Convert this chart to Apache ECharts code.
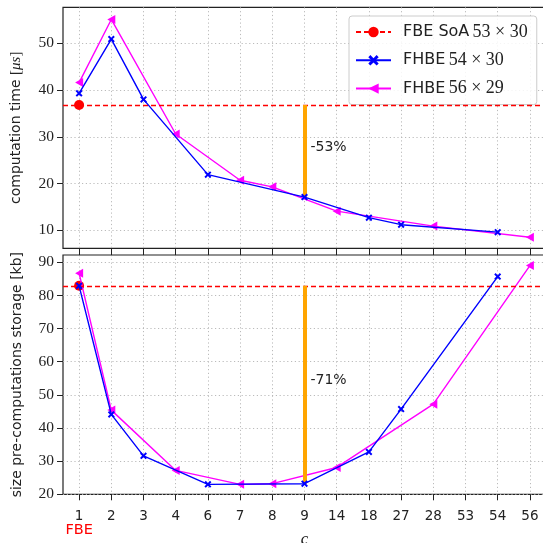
<!DOCTYPE html>
<html><head><meta charset="utf-8">
<script src="https://cdn.jsdelivr.net/npm/echarts@6/dist/echarts.min.js"></script>
<style>html,body{margin:0;padding:0;background:#fff}#c{width:543px;height:543px}</style>
</head><body><div id="c"></div>
<script>
// ---- data ----
const categories = ['1','2','3','4','6','7','8','9','14','18','27','28','53','54','56'];
const fbeCategory = '1';
const fbeLabel = 'FBE';
const timeFBE = 36.8;
const timeFHBE54 = [39.3, 50.9, 38.0, null, 21.9, null, null, 17.1, null, 12.7, 11.2, null, null, 9.6, null];
const timeFHBE56 = [41.6, 55.1, null, 30.6, null, 20.7, 19.3, null, 14.1, null, null, 10.9, null, null, 8.5];
const storageFBE = 82.9;
const storageFHBE54 = [82.9, 44.1, 31.6, null, 23.0, null, null, 23.2, null, 32.8, 45.7, null, null, 85.7, null];
const storageFHBE56 = [86.7, 45.4, null, 27.2, null, 23.0, 23.2, null, 28.1, null, null, 47.2, null, null, 89.0];
const timeTicks = [10, 20, 30, 40, 50];
const storageTicks = [20, 30, 40, 50, 60, 70, 80, 90];
const reductionCategory = '9';
const reductionLabels = ['-53%', '-71%'];
const legendParts = [['FBE SoA', '53 × 30'], ['FHBE', '54 × 30'], ['FHBE', '56 × 29']];

// ---- styling ----
const serif = 'Liberation Serif';
const sans = 'DejaVu Sans';
const ink = '#222';
const RED = '#ff0000', BLUE = '#0000ff', MAG = '#ff00ff', ORANGE = '#ffa500';
const names = legendParts.map(p => p[0] + ' ' + p[1]);
const xMark = 'path://M0,2 L2,0 L5,3 L8,0 L10,2 L7,5 L10,8 L8,10 L5,7 L2,10 L0,8 L3,5 Z';
const leftTri = 'path://M0,5 L10,0 L10,10 Z';
const gridLine = {show: true, lineStyle: {color: '#b3b3b3', width: 0.9, type: [1.2, 2.6]}};

const fbeData = v => categories.map(c => c === fbeCategory ? v : null);
const ri = categories.indexOf(reductionCategory);

function xAxisCfg(gi, bottom) {
  return {
    gridIndex: gi, type: 'category', data: categories, boundaryGap: true,
    axisLine: {show: false},
    axisTick: {show: true, alignWithLabel: true, interval: 0, length: bottom ? 6 : 7, lineStyle: {color: ink, width: 1}},
    splitLine: Object.assign({}, gridLine, {interval: 0, alignWithLabel: true}),
    axisLabel: bottom ? {
      show: true, interval: 0, margin: 15,
      formatter: v => v === fbeCategory ? '{n|' + v + '}\n{f|' + fbeLabel + '}' : '{n|' + v + '}',
      rich: {
        n: {fontFamily: sans, fontSize: 13.5, color: ink, lineHeight: 14},
        f: {fontFamily: sans, fontSize: 14.5, color: RED, lineHeight: 14}
      }
    } : {show: false},
    name: bottom ? 'c' : '', nameLocation: 'middle', nameGap: 37, nameMoveOverlap: false,
    nameTextStyle: {fontFamily: serif, fontStyle: 'italic', fontSize: 17, color: ink}
  };
}
function yAxisCfg(gi, min, max, ticks, nameText) {
  return {
    gridIndex: gi, type: 'value', min: min, max: max,
    axisLine: {show: false},
    axisTick: {show: true, length: 6, customValues: ticks, lineStyle: {color: ink, width: 1}},
    axisLabel: {customValues: ticks, fontFamily: serif, fontSize: 15.5, color: ink, margin: 9},
    splitLine: gridLine,
    name: nameText, nameLocation: 'middle', nameGap: 39, nameMoveOverlap: false,
    nameTextStyle: {fontFamily: sans, fontSize: 14, color: ink,
      rich: {m: {fontFamily: serif, fontSize: 15, color: ink}, mi: {fontFamily: serif, fontStyle: 'italic', fontSize: 15, color: ink}}}
  };
}

function fbeSeries(gi, v) {
  return {
    name: names[0], type: 'line', xAxisIndex: gi, yAxisIndex: gi, data: fbeData(v),
    symbol: 'circle', symbolSize: 10, z: 3,
    itemStyle: {color: RED}, lineStyle: {color: RED, width: 1.3, type: [5, 3]},
    markLine: {silent: true, symbol: 'none', label: {show: false}, animation: false,
      lineStyle: {color: RED, width: 1.3, type: [5, 3]}, data: [{yAxis: v}]}
  };
}
function fhbeSeries(gi, idx, data) {
  const blue = idx === 1;
  return {
    name: names[idx], type: 'line', xAxisIndex: gi, yAxisIndex: gi, data: data, connectNulls: true,
    symbol: blue ? xMark : leftTri, symbolSize: blue ? 7 : [8, 9], z: blue ? 5 : 4,
    itemStyle: {color: blue ? BLUE : MAG}, lineStyle: {color: blue ? BLUE : MAG, width: 1.4}
  };
}
function reductionSeries(gi, base, val, label) {
  return {
    name: 'reduction' + gi, type: 'line', xAxisIndex: gi, yAxisIndex: gi,
    data: categories.map(() => null), z: 2, silent: true,
    markLine: {silent: true, symbol: 'none', animation: false, label: {show: false},
      lineStyle: {color: ORANGE, width: 4, type: 'solid'},
      data: [[{coord: [reductionCategory, base]}, {coord: [reductionCategory, val]}]]},
    markPoint: {silent: true, animation: false, symbol: 'circle', symbolSize: 0,
      data: [{coord: [reductionCategory, (base + val) / 2], value: label}],
      label: {show: true, position: 'right', distance: 6, offset: [0, -4], formatter: label,
        fontFamily: sans, fontSize: 14, color: ink}}
  };
}

const chart = echarts.init(document.getElementById('c'), null, {renderer: 'canvas'});
chart.setOption({
  animation: false,
  backgroundColor: '#fff',
  grid: [
    {left: 63, width: 483, top: 7.3, height: 241, show: true, borderColor: ink, borderWidth: 1.2, backgroundColor: 'transparent', containLabel: false, outerBoundsMode: 'none'},
    {left: 63, width: 483, top: 255, height: 239.3, show: true, borderColor: ink, borderWidth: 1.2, backgroundColor: 'transparent', containLabel: false, outerBoundsMode: 'none'}
  ],
  xAxis: [xAxisCfg(0, false), xAxisCfg(1, true)],
  yAxis: [
    yAxisCfg(0, 6.15, 57.7, timeTicks, 'computation time {m|[}{mi|μs}{m|]}'),
    yAxisCfg(1, 20, 92.2, storageTicks, 'size pre-computations storage [kb]')
  ],
  legend: {
    data: names, orient: 'vertical', left: 349, top: 16,
    padding: [7, 9, 7, 6], itemWidth: 35, itemHeight: 13, itemGap: 10.3,
    backgroundColor: 'rgba(255,255,255,0.85)', borderColor: '#cccccc', borderWidth: 1, borderRadius: 3,
    formatter: n => { const p = legendParts[names.indexOf(n)]; return '{a|' + p[0] + '} {b|' + p[1] + '}'; },
    textStyle: {rich: {
      a: {fontFamily: sans, fontSize: 16, color: ink, padding: [0, 0, 0, 7], lineHeight: 13},
      b: {fontFamily: serif, fontSize: 18, color: ink, lineHeight: 13}
    }}
  },
  series: [
    fbeSeries(0, timeFBE),
    fhbeSeries(0, 1, timeFHBE54),
    fhbeSeries(0, 2, timeFHBE56),
    reductionSeries(0, timeFBE, timeFHBE54[ri], reductionLabels[0]),
    fbeSeries(1, storageFBE),
    fhbeSeries(1, 1, storageFHBE54),
    fhbeSeries(1, 2, storageFHBE56),
    reductionSeries(1, storageFBE, storageFHBE54[ri], reductionLabels[1])
  ]
});
</script></body></html>
